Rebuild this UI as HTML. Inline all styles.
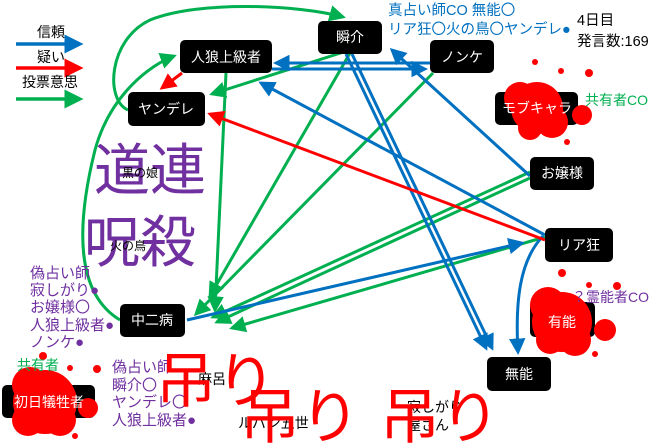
<!DOCTYPE html>
<html><head><meta charset="utf-8"><style>
body{margin:0;background:#fff;}
svg{display:block;font-family:"Liberation Sans","Noto Sans CJK JP",sans-serif;}
</style></head><body>
<svg width="660" height="444" viewBox="0 0 660 444" xmlns="http://www.w3.org/2000/svg">
<defs>
<marker id="b" markerWidth="5.5" markerHeight="5.5" refX="4.5" refY="2.75" orient="auto" markerUnits="strokeWidth"><path d="M0,0 L5.5,2.75 L0,5.5 z" fill="#0070c0"/></marker>
<marker id="r" markerWidth="5.5" markerHeight="5.5" refX="4.5" refY="2.75" orient="auto" markerUnits="strokeWidth"><path d="M0,0 L5.5,2.75 L0,5.5 z" fill="#ff0000"/></marker>
<marker id="g" markerWidth="5.5" markerHeight="5.5" refX="4.5" refY="2.75" orient="auto" markerUnits="strokeWidth"><path d="M0,0 L5.5,2.75 L0,5.5 z" fill="#00b050"/></marker>
</defs>
<!-- legend -->
<text x="37" y="37" font-size="14">信頼</text>
<line x1="16" y1="44" x2="80" y2="44" stroke="#0070c0" stroke-width="3.5" marker-end="url(#b)"/>
<text x="37" y="62" font-size="14">疑い</text>
<line x1="16" y1="68" x2="80" y2="68" stroke="#ff0000" stroke-width="3.5" marker-end="url(#r)"/>
<text x="22" y="87" font-size="14">投票意思</text>
<line x1="16" y1="99" x2="80" y2="99" stroke="#00b050" stroke-width="3.5" marker-end="url(#g)"/>

<!-- big purple text -->
<text x="94" y="190" font-size="56" fill="#7030a0">道連</text>
<text x="84" y="262" font-size="56" fill="#7030a0">呪殺</text>
<text x="122" y="177" font-size="12">黒の娘</text>
<text x="110" y="250" font-size="12">火の鳥</text>

<g fill="none" stroke-width="3">
<!-- green -->
<path d="M128,110 C105,100 108,40 150,20 C200,0 300,5 343,17" stroke="#00b050" marker-end="url(#g)"/>
<path d="M120,320 C70,290 80,210 95,150 C110,95 150,65 174,56" stroke="#00b050" marker-end="url(#g)"/>
<line x1="350" y1="50" x2="212" y2="94" stroke="#00b050" marker-end="url(#g)"/>
<line x1="226" y1="73" x2="215" y2="310" stroke="#00b050" marker-end="url(#g)"/>
<line x1="350" y1="53" x2="210" y2="296" stroke="#00b050" marker-end="url(#g)"/>
<line x1="433" y1="73" x2="196" y2="314" stroke="#00b050" marker-end="url(#g)"/>
<line x1="530" y1="172" x2="213" y2="317" stroke="#00b050" marker-end="url(#g)"/>
<line x1="530" y1="178" x2="217" y2="322" stroke="#00b050" marker-end="url(#g)"/>
<line x1="545" y1="237" x2="232" y2="328" stroke="#00b050" marker-end="url(#g)"/>
<!-- blue -->
<line x1="430" y1="63" x2="276" y2="63" stroke="#0070c0" marker-end="url(#b)"/>
<line x1="272" y1="69" x2="425" y2="69" stroke="#0070c0" marker-end="url(#b)"/>
<line x1="530" y1="176" x2="392" y2="50" stroke="#0070c0" marker-end="url(#b)"/>
<line x1="545" y1="235" x2="261" y2="83" stroke="#0070c0" marker-end="url(#b)"/>
<line x1="346" y1="54" x2="486" y2="348" stroke="#0070c0" marker-end="url(#b)"/>
<line x1="352" y1="54" x2="492" y2="348" stroke="#0070c0" marker-end="url(#b)"/>
<line x1="187" y1="320" x2="522" y2="243" stroke="#0070c0" marker-end="url(#b)"/>
<path d="M543,236 C520,260 515,300 518,352" stroke="#0070c0" marker-end="url(#b)"/>
<!-- red -->
<line x1="545" y1="240" x2="210" y2="114" stroke="#ff0000" marker-end="url(#r)"/>
<line x1="182" y1="73" x2="162" y2="88" stroke="#ff0000" marker-end="url(#r)"/>
</g>

<!-- nodes -->
<g font-size="14" fill="#fff" text-anchor="middle">
<rect x="180" y="40" width="92" height="33" rx="5" fill="#000"/><text x="226" y="62">人狼上級者</text>
<rect x="128" y="92" width="77" height="34" rx="5" fill="#000"/><text x="166" y="114">ヤンデレ</text>
<rect x="318" y="21" width="64" height="33" rx="5" fill="#000"/><text x="350" y="42">瞬介</text>
<rect x="430" y="40" width="64" height="33" rx="5" fill="#000"/><text x="462" y="62">ノンケ</text>
<rect x="495" y="92" width="83" height="33" rx="5" fill="#000"/>
<rect x="530" y="157" width="64" height="33" rx="5" fill="#000"/><text x="562" y="178">お嬢様</text>
<rect x="545" y="228" width="68" height="34" rx="5" fill="#000"/><text x="579" y="250">リア狂</text>
<rect x="530" y="302" width="65" height="35" rx="5" fill="#000"/>
<rect x="487" y="357" width="64" height="34" rx="5" fill="#000"/><text x="519" y="379">無能</text>
<rect x="120" y="304" width="65" height="33" rx="5" fill="#000"/><text x="152" y="325">中二病</text>
<rect x="2" y="385" width="93" height="33" rx="5" fill="#000"/>
</g>

<!-- splats -->
<g fill="#ff0000">
<circle cx="537" cy="108" r="26"/><circle cx="520" cy="98" r="16"/><circle cx="552" cy="122" r="16"/><circle cx="530" cy="128" r="12"/><circle cx="582" cy="115" r="10"/><circle cx="535" cy="62" r="3"/><circle cx="561" cy="71" r="3"/><circle cx="589" cy="73" r="4"/><circle cx="567" cy="142" r="3"/>
<circle cx="562" cy="322" r="30"/><circle cx="548" cy="305" r="18"/><circle cx="575" cy="340" r="16"/><circle cx="550" cy="340" r="14"/><circle cx="605" cy="330" r="11"/><circle cx="562" cy="273" r="4"/><circle cx="589" cy="285" r="3"/><circle cx="617" cy="286" r="4"/><circle cx="595" cy="354" r="3"/>
<circle cx="45" cy="402" r="32"/><circle cx="30" cy="385" r="18"/><circle cx="60" cy="420" r="16"/><circle cx="28" cy="420" r="16"/><circle cx="88" cy="408" r="10"/><circle cx="43" cy="356" r="4"/><circle cx="70" cy="368" r="3"/><circle cx="97" cy="369" r="4"/><circle cx="75" cy="436" r="3"/>
</g>
<g font-size="14" fill="#fff" text-anchor="middle">
<text x="537" y="113">モブキャラ</text>
<text x="562" y="327">有能</text>
<text x="49" y="407">初日犠牲者</text>
</g>

<!-- annotations -->
<g font-size="14.5" fill="#0070c0">
<text x="388" y="15">真占い師CO 無能〇</text>
<text x="388" y="34">リア狂〇火の鳥〇ヤンデレ●</text>
</g>
<text x="577" y="25" font-size="14.5">4日目</text>
<text x="577" y="46" font-size="14.5">発言数:169</text>
<text x="585" y="105" font-size="14" fill="#00b050">共有者CO</text>
<text x="572" y="302" font-size="14" fill="#7030a0">？霊能者CO</text>

<g font-size="15" fill="#7030a0">
<text x="30" y="278">偽占い師</text>
<text x="30" y="295">寂しがり●</text>
<text x="30" y="312">お嬢様〇</text>
<text x="30" y="330">人狼上級者●</text>
<text x="30" y="347">ノンケ●</text>
<text x="112" y="372">偽占い師</text>
<text x="112" y="390">瞬介〇</text>
<text x="112" y="407">ヤンデレ〇</text>
<text x="112" y="425">人狼上級者●</text>
</g>
<text x="17" y="370" font-size="14" fill="#00b050">共有者</text>

<g font-size="14">
<text x="198" y="384">麻呂</text>
<text x="238" y="428">ルパン五世</text>
<text x="407" y="412">寂しがり</text>
<text x="407" y="430">屋さん</text>
</g>
<g font-size="60" fill="#ff0000">
<text x="156" y="402">吊り</text>
<text x="240" y="438">吊り</text>
<text x="380" y="438">吊り</text>
</g>
</svg>
</body></html>
